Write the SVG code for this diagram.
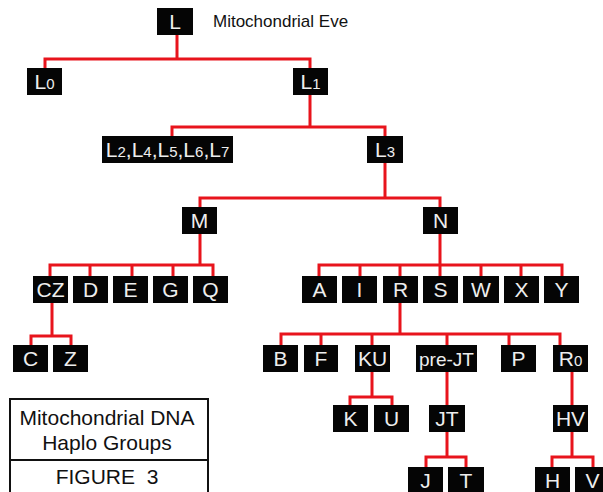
<svg xmlns="http://www.w3.org/2000/svg" width="603" height="492" viewBox="0 0 603 492">
<style>
.n rect{fill:#050505}
.n text{fill:#eeeeee;font-family:"Liberation Sans",Arial,sans-serif;font-size:21px;text-anchor:middle}
.sub{font-size:15px}
.c path{stroke:#e8141c;stroke-width:3;fill:none;stroke-linejoin:miter}
.t{fill:#111;font-family:"Liberation Sans",Arial,sans-serif}
.lg{font-size:21px;text-anchor:middle}
</style>
<rect width="603" height="492" fill="#fff"/>
<g id="connectors" class="c">
<path d="M177 34V59M45 68V59H310V68"/>
<path d="M310 95V127M172 136V127H385V136"/>
<path d="M385 163V198M200 207V198H440V207"/>
<path d="M200 234V265M50 276V265H213V276M90 265V276M132 265V276M173 265V276"/>
<path d="M440 234V276M319 276V265H562V276M360 265V276M400 265V276M481 265V276M521 265V276"/>
<path d="M52 303V336M31 345V336H71V345"/>
<path d="M400 303V334M281 345V334H560V345M321 334V345M372 334V345M447 334V345M509 334V345"/>
<path d="M372 372V397M350 405V397H392V405"/>
<path d="M447 372V405"/>
<path d="M447 432V457M426 467V457H466V467"/>
<path d="M572 372V405"/>
<path d="M572 432V457M552 467V457H593V467"/>
</g>
<g id="L" class="n"><rect x="157" y="8" width="36" height="27"/><text x="175" y="29">L</text></g>
<text class="t" x="213" y="27" font-size="17">Mitochondrial Eve</text>
<g id="L0" class="n"><rect x="27" y="68" width="35" height="27"/><text x="44.5" y="89">L<tspan class="sub">0</tspan></text></g>
<g id="L1" class="n"><rect x="293" y="68" width="35" height="27"/><text x="310.5" y="89">L<tspan class="sub">1</tspan></text></g>
<g id="L2" class="n"><rect x="102" y="136" width="131" height="27"/><text x="167.5" y="157">L<tspan class="sub">2</tspan>,L<tspan class="sub">4</tspan>,L<tspan class="sub">5</tspan>,L<tspan class="sub">6</tspan>,L<tspan class="sub">7</tspan></text></g>
<g id="L3" class="n"><rect x="367" y="136" width="36" height="27"/><text x="385" y="157">L<tspan class="sub">3</tspan></text></g>
<g id="M" class="n"><rect x="182" y="207" width="35" height="27"/><text x="199.5" y="228">M</text></g>
<g id="N" class="n"><rect x="423" y="207" width="35" height="27"/><text x="440.5" y="228">N</text></g>
<g id="CZ" class="n"><rect x="33" y="276" width="35" height="27"/><text x="50.5" y="297">CZ</text></g>
<g id="D" class="n"><rect x="73" y="276" width="35" height="27"/><text x="90.5" y="297">D</text></g>
<g id="E" class="n"><rect x="113" y="276" width="35" height="27"/><text x="130.5" y="297">E</text></g>
<g id="G" class="n"><rect x="153" y="276" width="35" height="27"/><text x="170.5" y="297">G</text></g>
<g id="Q" class="n"><rect x="193" y="276" width="35" height="27"/><text x="210.5" y="297">Q</text></g>
<g id="A" class="n"><rect x="302" y="276" width="35" height="27"/><text x="319.5" y="297">A</text></g>
<g id="I" class="n"><rect x="342" y="276" width="35" height="27"/><text x="359.5" y="297">I</text></g>
<g id="R" class="n"><rect x="383" y="276" width="35" height="27"/><text x="400.5" y="297">R</text></g>
<g id="S" class="n"><rect x="423" y="276" width="35" height="27"/><text x="440.5" y="297">S</text></g>
<g id="W" class="n"><rect x="463" y="276" width="36" height="27"/><text x="481" y="297">W</text></g>
<g id="X" class="n"><rect x="504" y="276" width="35" height="27"/><text x="521.5" y="297">X</text></g>
<g id="Y" class="n"><rect x="544" y="276" width="35" height="27"/><text x="561.5" y="297">Y</text></g>
<g id="C" class="n"><rect x="13" y="345" width="35" height="27"/><text x="30.5" y="366">C</text></g>
<g id="Z" class="n"><rect x="53" y="345" width="35" height="27"/><text x="70.5" y="366">Z</text></g>
<g id="B" class="n"><rect x="263" y="345" width="35" height="27"/><text x="280.5" y="366">B</text></g>
<g id="F" class="n"><rect x="304" y="345" width="34" height="27"/><text x="321" y="366">F</text></g>
<g id="KU" class="n"><rect x="355" y="345" width="35" height="27"/><text x="372.5" y="366">KU</text></g>
<g id="preJT" class="n"><rect x="416" y="345" width="61" height="27"/><text x="446.5" y="366" style="font-size:19px">pre-JT</text></g>
<g id="P" class="n"><rect x="501" y="345" width="35" height="27"/><text x="518.5" y="366">P</text></g>
<g id="R0" class="n"><rect x="553" y="345" width="35" height="27"/><text x="570.5" y="366">R<tspan class="sub">0</tspan></text></g>
<g id="K" class="n"><rect x="333" y="405" width="35" height="27"/><text x="350.5" y="426">K</text></g>
<g id="U" class="n"><rect x="374" y="405" width="35" height="27"/><text x="391.5" y="426">U</text></g>
<g id="JT" class="n"><rect x="429" y="405" width="36" height="27"/><text x="447" y="426">JT</text></g>
<g id="HV" class="n"><rect x="553" y="405" width="35" height="27"/><text x="570.5" y="426">HV</text></g>
<g id="J" class="n"><rect x="408" y="467" width="35" height="27"/><text x="425.5" y="488">J</text></g>
<g id="T" class="n"><rect x="448" y="467" width="36" height="27"/><text x="466" y="488">T</text></g>
<g id="H" class="n"><rect x="535" y="467" width="35" height="27"/><text x="552.5" y="488">H</text></g>
<g id="V" class="n"><rect x="575" y="467" width="35" height="27"/><text x="592.5" y="488">V</text></g>
<g id="legend">
<rect x="10" y="399" width="198" height="100" fill="#fff" stroke="#111" stroke-width="2"/>
<line x1="10" y1="460" x2="208" y2="460" stroke="#111" stroke-width="2"/>
<text class="t lg" x="107" y="425">Mitochondrial DNA</text>
<text class="t lg" x="107" y="450">Haplo Groups</text>
<text class="t lg" x="107" y="484" xml:space="preserve">FIGURE  3</text>
</g>
</svg>
